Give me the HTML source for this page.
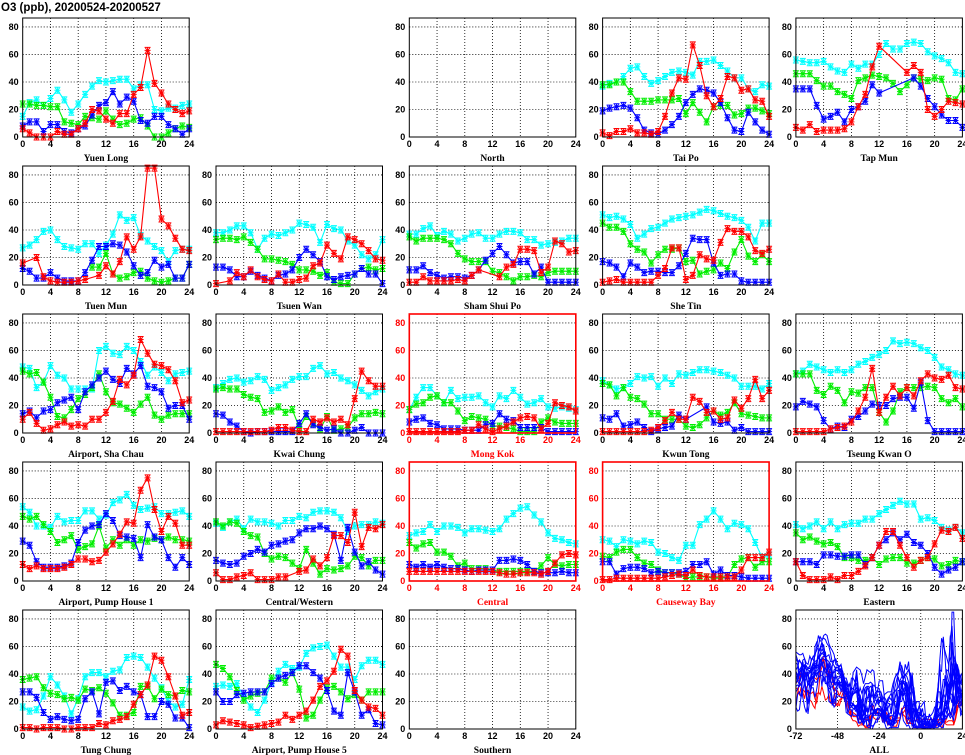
<!DOCTYPE html>
<html><head><meta charset="utf-8">
<style>
html,body{margin:0;padding:0;background:#fff;}
svg{display:block;font-family:"Liberation Sans",sans-serif;}
</style></head>
<body>
<svg id="chart" width="965" height="755" viewBox="0 0 965 755" xmlns="http://www.w3.org/2000/svg">
<text x="1" y="11" font-size="11.5" font-weight="bold" fill="#000">O3 (ppb), 20200524-20200527</text>
</svg>
<script>
const hours = [0,1,2,3,4,5,6,7,8,9,10,11,12,13,14,15,16,17,18,19,20,21,22,23,24];
const xTicks = [0,4,8,12,16,20,24];
const yTicks = [0,20,40,60,80];
const allXTicks = [-72,-48,-24,0,24];
const dayOffsets = [-72,-48,-24,0];
const seriesColors = ["#00ffff","#00ee00","#0000ff","#ff0000"];
const N = null;

const stationNames = ["Yuen Long","North","Tai Po","Tap Mun","Tuen Mun","Tsuen Wan","Sham Shui Po","She Tin","Airport, Sha Chau","Kwai Chung","Mong Kok","Kwun Tong","Tseung Kwan O","Airport, Pump House 1","Central/Western","Central","Causeway Bay","Eastern","Tung Chung","Airport, Pump House 5","Southern"];
const stationCells = [[0,0],[0,2],[0,3],[0,4],[1,0],[1,1],[1,2],[1,3],[2,0],[2,1],[2,2],[2,3],[2,4],[3,0],[3,1],[3,2],[3,3],[3,4],[4,0],[4,1],[4,2]];
const redStations = ["Mong Kok","Central","Causeway Bay"];

const cyanValues = {
"Yuen Long":[15,25,27,23,28,34,27,18,24,31,37,41,40,41,42,42,35,38,38,20,19,21,21,23,24],
"Tai Po":[37,39,40,44,50,51,44,39,41,44,47,48,47,45,55,55,56,52,48,43,43,35,33,38,37],
"Tap Mun":[56,55,54,54,55,51,48,47,53,50,53,53,60,68,64,64,68,69,68,62,59,57,54,47,46],
"Tuen Mun":[27,29,33,39,40,33,28,27,26,30,30,23,29,37,51,47,49,36,32,28,25,17,25,26,26],
"Tsuen Wan":[38,38,40,43,43,38,26,34,37,36,38,40,45,44,42,31,44,41,40,32,29,22,19,22,33],
"Sham Shui Po":[37,37,41,43,36,39,37,32,34,37,38,34,34,37,39,39,38,33,33,29,30,31,32,34,34],
"She Tin":[51,49,50,48,44,34,37,41,42,45,48,49,50,51,53,55,54,52,50,49,47,42,32,45,45],
"Airport, Sha Chau":[48,47,33,37,49,42,40,32,32,32,32,60,63,58,57,63,60,52,42,48,44,38,43,44,45],
"Kwai Chung":[33,36,39,40,37,38,41,39,31,33,35,39,41,41,47,49,43,44,40,38,35,31,27,30,32],
"Mong Kok":[17,26,33,33,27,22,31,25,26,26,27,22,19,27,25,31,26,21,22,25,19,18,19,18,17],
"Kwun Tong":[38,35,32,33,36,41,40,41,34,40,36,43,42,44,46,46,45,44,42,40,34,34,34,32,36],
"Tseung Kwan O":[43,45,50,48,46,44,46,44,46,50,52,55,57,60,67,65,66,65,62,60,55,48,46,43,42],
"Airport, Pump House 1":[54,50,40,40,39,47,43,44,44,51,51,45,48,57,59,63,55,52,53,54,49,49,50,51,47],
"Central/Western":[42,39,43,45,38,45,43,43,42,40,44,44,47,46,50,51,51,50,46,36,40,41,41,43,42],
"Central":[33,35,36,41,36,40,40,39,35,38,38,37,36,38,45,49,53,54,48,43,35,31,30,28,27],
"Causeway Bay":[30,29,25,30,29,27,29,28,21,20,17,15,26,26,41,45,51,45,38,42,41,38,28,17,19],
"Eastern":[41,38,40,43,38,43,38,41,42,42,45,45,49,52,55,58,56,56,45,46,44,39,37,39,35],
"Tung Chung":[16,13,14,24,38,32,24,11,22,38,41,41,38,42,43,52,53,52,45,37,30,20,16,18,36],
"Airport, Pump House 5":[31,32,31,33,23,16,12,21,34,42,47,44,45,55,59,60,61,53,45,45,36,46,50,50,47]
};
const greenValues = {
"Yuen Long":[24,24,23,23,22,22,11,10,9,15,14,13,19,13,9,10,13,14,8,0,0,3,6,8,7],
"Tai Po":[38,38,40,40,33,26,26,26,27,27,27,28,17,25,18,11,22,23,23,16,17,21,21,19,17],
"Tap Mun":[46,46,46,41,37,37,33,31,28,41,43,45,44,43,39,33,38,43,42,41,43,42,28,27,35],
"Tuen Mun":[N,N,N,N,N,N,N,N,N,N,13,13,23,8,5,6,9,10,5,3,2,3,5,5,15],
"Tsuen Wan":[33,34,34,33,35,31,26,19,19,18,17,15,11,11,10,7,9,2,1,1,8,12,13,11,12],
"Sham Shui Po":[35,32,34,34,34,33,30,23,19,17,17,17,10,9,6,3,6,6,7,6,9,10,10,10,10],
"She Tin":[45,42,42,39,30,26,24,16,22,26,26,27,17,18,8,10,11,16,12,24,33,21,17,22,17],
"Airport, Sha Chau":[45,43,44,37,26,12,11,17,25,28,33,43,30,22,21,18,15,21,26,13,10,13,14,14,14],
"Kwai Chung":[32,33,32,32,28,26,25,15,16,19,15,17,4,12,7,3,12,2,3,4,11,14,14,15,14],
"Mong Kok":[17,21,22,26,27,22,22,16,9,12,11,10,5,5,4,3,1,1,1,8,11,8,7,7,7],
"Kwun Tong":[36,35,27,33,26,25,21,14,14,10,10,10,5,4,6,11,16,13,15,22,14,13,12,11,11],
"Tseung Kwan O":[43,43,43,31,28,34,31,22,30,29,33,33,15,8,16,30,33,33,33,34,33,25,22,25,19],
"Airport, Pump House 1":[47,45,47,41,36,28,30,33,23,25,27,40,24,30,26,30,26,30,29,31,30,32,30,30,29],
"Central/Western":[43,40,43,42,36,33,32,20,16,18,17,13,9,23,13,5,9,8,9,11,18,17,11,15,15],
"Central":[28,24,27,28,21,21,18,11,13,9,9,9,8,7,7,7,7,7,7,11,17,12,11,12,12],
"Causeway Bay":[18,17,21,23,23,17,13,12,8,6,6,5,2,3,3,3,2,2,3,12,16,17,10,14,14],
"Eastern":[35,30,32,29,27,28,25,17,17,15,15,17,12,16,17,17,13,13,15,17,16,11,12,15,14],
"Tung Chung":[36,37,38,30,26,25,22,23,21,29,28,30,26,19,10,10,12,31,31,22,29,25,24,28,27],
"Airport, Pump House 5":[47,44,38,28,21,24,26,27,37,37,34,41,29,8,10,21,30,31,27,22,25,21,27,27,27]
};
const blueValues = {
"Yuen Long":[8,11,11,4,9,9,4,3,6,8,16,23,25,33,24,29,26,12,10,15,15,9,6,2,6],
"Tai Po":[19,21,22,23,21,14,5,3,2,5,9,15,25,31,35,34,32,25,14,5,4,18,11,5,2],
"Tap Mun":[35,35,35,23,13,15,18,11,20,22,26,38,32,N,N,N,N,43,37,28,22,16,12,12,7],
"Tuen Mun":[12,10,5,5,9,5,3,3,3,9,18,28,28,30,29,24,14,7,9,18,13,15,5,5,15],
"Tsuen Wan":[13,13,11,6,6,10,7,5,3,7,8,11,20,26,22,17,6,4,6,7,8,12,8,8,1],
"Sham Shui Po":[11,11,14,9,7,5,6,6,5,7,11,18,23,28,22,16,17,17,8,13,2,2,2,2,2],
"She Tin":[17,16,13,6,16,13,9,10,10,9,9,14,23,34,33,33,16,7,8,8,3,2,2,2,2],
"Airport, Sha Chau":[14,16,11,16,17,22,24,26,17,30,35,40,45,39,36,47,43,49,34,33,30,18,20,20,10],
"Kwai Chung":[14,13,8,5,1,0,1,1,1,1,1,1,7,14,6,4,2,3,0,0,2,4,0,0,0],
"Mong Kok":[8,10,11,7,6,3,3,3,2,2,2,6,7,14,10,9,4,4,4,4,1,1,1,1,1],
"Kwun Tong":[11,10,14,5,6,8,4,1,3,4,5,13,10,N,N,19,8,7,8,2,4,1,1,1,1],
"Tseung Kwan O":[19,23,21,19,9,3,5,4,10,12,16,21,20,20,25,26,26,18,37,9,1,1,1,1,1],
"Airport, Pump House 1":[29,26,14,10,10,10,11,13,28,37,40,41,49,44,33,32,31,17,41,32,30,17,10,17,12],
"Central/Western":[15,13,12,13,18,20,23,21,26,27,29,30,35,38,38,40,38,34,15,39,21,11,14,8,5],
"Central":[12,10,12,10,12,10,9,9,8,7,8,8,8,15,15,16,15,12,7,6,6,6,7,6,6],
"Causeway Bay":[14,14,5,9,10,10,9,6,7,6,6,6,7,12,12,14,5,8,4,4,3,2,2,2,2],
"Eastern":[14,14,14,12,19,19,18,18,19,19,12,17,26,30,35,30,34,28,26,20,10,5,8,10,14],
"Tung Chung":[27,27,23,12,7,9,7,6,7,22,27,11,34,35,28,31,27,25,9,9,20,18,8,8,1],
"Airport, Pump House 5":[27,20,20,25,26,27,27,27,33,37,39,41,46,46,41,37,28,13,10,41,27,10,14,4,3]
};
const redValues = {
"Yuen Long":[6,3,0,0,0,4,2,2,6,10,20,19,13,10,17,17,31,36,63,39,32,24,20,17,19],
"Tai Po":[3,1,4,4,6,3,3,2,4,15,32,43,42,67,52,30,22,28,44,43,34,35,27,26,15],
"Tap Mun":[7,5,9,4,5,5,5,6,11,22,31,51,66,N,N,N,47,52,47,20,15,20,26,25,24],
"Tuen Mun":[16,N,20,6,3,2,2,2,3,4,N,7,14,8,17,35,26,35,85,85,48,43,34,26,25],
"Tsuen Wan":[1,N,3,9,6,11,6,4,3,8,2,2,4,5,14,16,29,23,19,35,33,30,25,19,18],
"Sham Shui Po":[2,2,6,3,3,3,3,4,3,7,11,N,N,6,13,15,26,26,25,9,13,32,30,24,25],
"She Tin":[2,3,4,2,2,2,2,2,7,12,27,27,4,7,22,19,18,31,41,39,39,35,25,23,26],
"Airport, Sha Chau":[10,15,7,2,3,6,8,5,6,5,10,10,15,23,39,35,42,68,58,50,49,46,38,22,24],
"Kwai Chung":[1,1,1,1,1,1,1,1,2,4,4,2,1,1,10,8,11,8,10,6,25,45,38,34,34],
"Mong Kok":[1,1,1,1,1,1,1,1,2,2,6,3,1,3,5,8,11,12,11,3,7,22,20,19,16],
"Kwun Tong":[1,1,1,1,1,1,1,2,4,9,15,10,10,26,23,15,16,10,11,24,18,25,39,25,31],
"Tseung Kwan O":[1,1,1,1,1,3,4,5,8,16,26,47,15,26,34,27,33,27,38,43,40,39,42,33,32],
"Airport, Pump House 1":[12,9,11,9,9,9,10,12,16,16,14,15,21,27,34,43,42,66,75,52,36,47,42,26,26],
"Central/Western":[6,1,1,3,4,6,1,1,1,3,3,N,7,8,16,11,17,33,33,28,50,25,39,38,41],
"Central":[7,7,7,7,7,7,7,7,7,7,7,7,7,6,5,5,6,6,6,5,7,13,19,20,19],
"Causeway Bay":[1,1,2,2,2,2,2,2,2,3,4,5,4,8,4,3,3,3,3,3,8,17,17,17,21],
"Eastern":[14,4,1,1,1,3,1,4,4,7,11,17,26,36,36,26,17,10,15,17,27,37,36,39,31],
"Tung Chung":[1,1,0,1,1,1,0,0,1,1,1,4,3,6,7,9,18,25,32,53,50,38,24,10,12],
"Airport, Pump House 5":[3,6,5,4,3,1,2,3,4,5,10,7,10,13,21,31,35,42,58,53,28,21,16,15,10]
};

const svg = document.getElementById('chart');
const NS = 'http://www.w3.org/2000/svg';
function mk(tag, attrs){ const e=document.createElementNS(NS,tag); for(const k in attrs) e.setAttribute(k,attrs[k]); return e; }

const colX0 = 22.7, colStep = 193.3, pW = 166.5;
const rowY0 = 18, rowStep = 148, pH = 119;
const yMax = 86.5;

function makeScales(c, r, xmin, xmax){
  const x0 = colX0 + c*colStep, y0 = rowY0 + r*rowStep;
  return {
    x0, y0,
    sx: v => x0 + (v - xmin)/(xmax - xmin)*pW,
    sy: v => y0 + pH - v/yMax*pH
  };
}

function drawAxes(g, sc, ticksX, xmin, xmax, color, title){
  const {x0,y0,sx,sy} = sc;
  ticksX.forEach(t=>{
    if(t===xmin||t===xmax) return;
    const l = mk('line',{x1:sx(t),x2:sx(t),y1:y0,y2:y0+pH,stroke:'#000','stroke-width':0.8,'stroke-dasharray':'1,2'});
    
    
    g.appendChild(l);
  });
  yTicks.forEach(t=>{
    if(t===0) return;
    const l = mk('line',{x1:x0,x2:x0+pW,y1:sy(t),y2:sy(t),stroke:'#000','stroke-width':0.8,'stroke-dasharray':'1,2'});
    
    
    g.appendChild(l);
  });
  ticksX.forEach(t=>{
    const tx = mk('text',{x:sx(t),y:y0+pH+10,'font-size':9,'font-weight':'bold','text-anchor':'middle',fill:color});
    tx.textContent = t;
    
    
    g.appendChild(tx);
  });
  yTicks.forEach(t=>{
    const tx = mk('text',{x:x0-4,y:sy(t)+3,'font-size':9,'font-weight':'bold','text-anchor':'end',fill:color});
    tx.textContent = t;
    
    
    g.appendChild(tx);
  });
  const tt = mk('text',{x:x0+pW/2,y:y0+pH+24,'font-size':9.5,'font-weight':'bold','text-anchor':'middle',fill:color,'font-family':'"Liberation Serif",serif'});
  tt.textContent = title;
  
  
  g.appendChild(tt);
}

function drawFrame(g, sc, color){
  const f = mk('rect',{x:sc.x0,y:sc.y0,width:pW,height:pH,fill:'none',stroke:color,'stroke-width':color==='#000'?1:1.6});
  
  
  g.appendChild(f);
}

function drawSeries(g, sc, xs, vals, color, markers, name){
  const pts=[];
  vals.forEach((v,i)=>{ if(v!==null && v!==undefined) pts.push([sc.sx(xs[i]), sc.sy(v)]); });
  if(!pts.length) return;
  const pl = mk('polyline',{points:pts.map(p=>p[0].toFixed(1)+','+p[1].toFixed(1)).join(' '),fill:'none',stroke:color,'stroke-width':markers?1.1:1});
  
  
  g.appendChild(pl);
  if(markers){
    pts.forEach(p=>{
      const s=3;
      const m = mk('path',{d:`M${p[0]-s},${p[1]}H${p[0]+s}M${p[0]},${p[1]-s}V${p[1]+s}M${p[0]-s*0.75},${p[1]-s*0.75}L${p[0]+s*0.75},${p[1]+s*0.75}M${p[0]-s*0.75},${p[1]+s*0.75}L${p[0]+s*0.75},${p[1]-s*0.75}M${p[0]-s},${p[1]-s}H${p[0]+s}M${p[0]-s},${p[1]+s}H${p[0]+s}`,stroke:color,'stroke-width':1,fill:'none'});
      
      
      g.appendChild(m);
    });
  }
}

const seriesSets = [cyanValues, greenValues, blueValues, redValues];
const seriesNames = ['cyan-series','green-series','blue-series','red-series'];

stationNames.forEach((name,idx)=>{
  const [r,c] = stationCells[idx];
  const g = mk('g',{});
  
  
  svg.appendChild(g);
  const color = redStations.includes(name) ? '#ff0000' : '#000';
  const sc = makeScales(c,r,0,24);
  drawAxes(g, sc, xTicks, 0, 24, color, name);
  seriesSets.forEach((set,si)=>{
    if(set[name]) drawSeries(g, sc, hours, set[name], seriesColors[si], true, seriesNames[si]);
  });
  drawFrame(g, sc, color);
});

// ALL panel: each station's four days concatenated on a -72..24 axis
(function(){
  const g = mk('g',{});
  
  
  svg.appendChild(g);
  const sc = makeScales(4,4,-72,24);
  drawAxes(g, sc, allXTicks, -72, 24, '#000', 'ALL');
  const order = stationNames.filter(n=>redStations.includes(n)).concat(stationNames.filter(n=>!redStations.includes(n)));
  order.forEach(name=>{
    const col = redStations.includes(name) ? '#ff0000' : '#0000ff';
    seriesSets.forEach((set,si)=>{
      if(!set[name]) return;
      const xs = hours.map(h=>h+dayOffsets[si]);
      drawSeries(g, sc, xs, set[name], col, false, redStations.includes(name)?'all-roadside':'all-general');
    });
  });
  drawFrame(g, sc, '#000');
})();
</script>
</body></html>
